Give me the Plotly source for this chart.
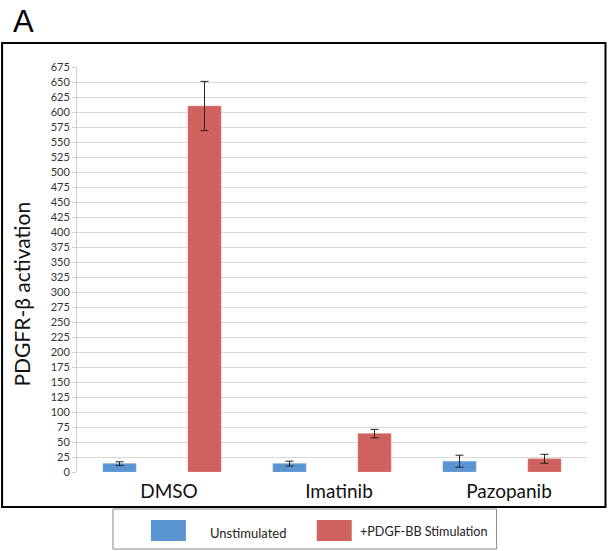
import plotly.graph_objects as go

categories = ["DMSO", "Imatinib", "Pazopanib"]
series_names = ["Unstimulated", "+PDGF-BB Stimulation"]
unstim_values = [14, 14, 18]
unstim_errors = [3, 4, 10]
stim_values = [610, 64, 22]
stim_errors = [41, 7, 7.5]
y_ticks = list(range(0, 676, 25))
y_title = "PDGFR-β activation"

W, H = 608, 551
L, R, T, B = 77, 587.5, 67, 472
PW, PH = R - L, B - T


def px(x):
    return (x - L) / PW


def py(y):
    return (B - y) / PH


blue = "#5b95d1"
red = "#cf625e"
font = "Lato, 'Open Sans', sans-serif"

fig = go.Figure()
fig.add_trace(go.Bar(
    x=categories, y=unstim_values, name=series_names[0],
    marker=dict(color=blue, line=dict(color="#8fb6e0", width=0.5)),
    error_y=dict(type="data", array=unstim_errors, color="#222222", thickness=1, width=4),
))
fig.add_trace(go.Bar(
    x=categories, y=stim_values, name=series_names[1],
    marker=dict(color=red, line=dict(color="#e09a97", width=0.5)),
    error_y=dict(type="data", array=stim_errors, color="#222222", thickness=1, width=4),
))

shapes = [
    # outer frame
    dict(type="rect", xref="paper", yref="paper", x0=px(2), x1=px(606), y0=py(507), y1=py(43),
         line=dict(color="black", width=2), fillcolor="rgba(0,0,0,0)", layer="below"),
    # legend box
    dict(type="rect", xref="paper", yref="paper", x0=px(113), x1=px(497), y0=py(549), y1=py(509),
         line=dict(color="#8c8c8c", width=1), fillcolor="white"),
    # legend swatches
    dict(type="rect", xref="paper", yref="paper", x0=px(151), x1=px(186), y0=py(541), y1=py(520),
         line=dict(width=0), fillcolor=blue),
    dict(type="rect", xref="paper", yref="paper", x0=px(317), x1=px(352), y0=py(541), y1=py(520),
         line=dict(width=0), fillcolor=red),
]

annotations = [
    dict(text="A", xref="paper", yref="paper", x=px(11), y=py(22), xanchor="left", yanchor="middle",
         showarrow=False, font=dict(family="Liberation Sans, Arial, sans-serif", size=31, color="black")),
    dict(text=y_title, xref="paper", yref="paper", x=px(20.5), y=py(294), xanchor="center",
         yanchor="middle", textangle=-90, showarrow=False,
         font=dict(family=font, size=21, color="#111")),
    dict(text=series_names[0], xref="paper", yref="paper", x=px(208), y=py(533), xanchor="left",
         yanchor="middle", showarrow=False, font=dict(family=font, size=13, color="#222")),
    dict(text=series_names[1], xref="paper", yref="paper", x=px(358), y=py(531), xanchor="left",
         yanchor="middle", showarrow=False, font=dict(family=font, size=12.6, color="#222")),
]

fig.update_layout(
    width=W, height=H,
    margin=dict(l=L, r=W - R, t=T, b=H - B, pad=0),
    paper_bgcolor="white", plot_bgcolor="white",
    barmode="group", bargap=0.0, bargroupgap=0.61,
    showlegend=False,
    shapes=shapes, annotations=annotations,
    xaxis=dict(
        showgrid=False, showline=False, ticks="", zeroline=False,
        tickfont=dict(family=font, size=19, color="#111"),
        ticklabelshift=7, ticklabelstandoff=6,
    ),
    yaxis=dict(
        range=[0, 675], tickvals=y_ticks, ticktext=[str(v) for v in y_ticks],
        showgrid=True, gridcolor="#d9d9d9", gridwidth=1,
        showline=True, linecolor="#d0d0d0", linewidth=1,
        ticks="outside", ticklen=4, tickcolor="#d0d0d0",
        zeroline=False,
        tickfont=dict(family=font, size=11, color="#333"),
    ),
)

fig.write_html("out.html")
